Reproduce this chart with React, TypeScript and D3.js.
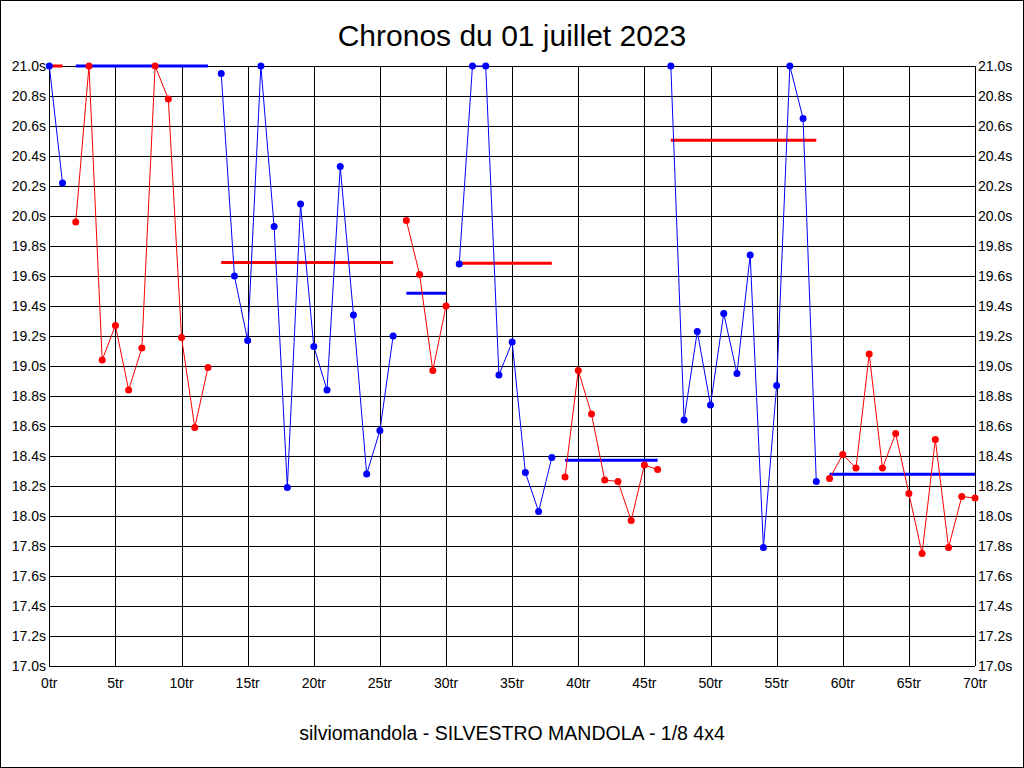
import React from "react";
import * as d3 from "d3";

const W = 1024;
const H = 768;

const title = "Chronos du 01 juillet 2023";
const subtitle = "silviomandola - SILVESTRO MANDOLA - 1/8 4x4";

// lap times (s), index = lap number (0..70), clamped at 21.0 like the chart
const lapTimes: number[] = [
  21.0, 20.22, 19.96, 21.0, 19.04, 19.27, 18.84, 19.12, 21.0, 20.78,
  19.19, 18.59, 18.99, 20.95, 19.6, 19.17, 21.0, 19.93, 18.19, 20.08,
  19.13, 18.84, 20.33, 19.34, 18.28, 18.57, 19.2, 19.97, 19.61, 18.97,
  19.4, 19.68, 21.0, 21.0, 18.94, 19.16, 18.29, 18.03, 18.39, 18.26,
  18.97, 18.68, 18.24, 18.23, 17.97, 18.34, 18.31, 21.0, 18.64, 19.23,
  18.74, 19.35, 18.95, 19.74, 17.79, 18.87, 21.0, 20.65, 18.23, 18.25,
  18.41, 18.32, 19.08, 18.32, 18.55, 18.15, 17.75, 18.51, 17.79, 18.13,
  18.12,
];

// relays: start lap, end lap, colour of points, average (clamped)
const segStart: number[] = [0, 2, 13, 27, 31, 39, 47, 59];
const segEnd: number[] = [1, 12, 26, 30, 38, 46, 58, 70];
const segColor: string[] = ["blue", "red", "blue", "red", "blue", "red", "blue", "red"];
const segAverage: number[] = [21.0, 21.0, 19.69, 19.485, 19.685, 18.371, 20.505, 18.278];

const xTicks: number[] = d3.range(0, 71, 5);
const yTicks: number[] = d3.range(0, 21).map((i) => 17 + i * 0.2);

const COLORS: Record<string, string> = { blue: "#0000ff", red: "#ff0000" };

export default function App() {
  const x = d3.scaleLinear().domain([0, 70]).range([49.3, 975]);
  const y = d3.scaleLinear().domain([17, 21]).range([666, 66]);
  const line = d3
    .line<number>()
    .x((_, i) => 0)
    .y(() => 0);

  const segs = segStart.map((s, k) => {
    const idx = d3.range(s, segEnd[k] + 1);
    const pts = idx.map((i) => [x(i), y(Math.min(21, lapTimes[i]))] as [number, number]);
    const path = d3.line()(pts) || "";
    return { k, idx, pts, path, color: COLORS[segColor[k]], avgColor: COLORS[segColor[k] === "blue" ? "red" : "blue"] };
  });
  void line;

  const font = "'Liberation Sans', Arial, sans-serif";

  return (
    <svg
      width={W}
      height={H}
      style={{ position: "absolute", left: 0, top: 0, background: "#fff" }}
      fontFamily={font}
    >
      <rect x={0} y={0} width={W} height={H} fill="#fff" />
      <rect x={0.5} y={0.5} width={W - 1} height={H - 1} fill="none" stroke="#000" strokeWidth={1} />
      <text x={512} y={46} textAnchor="middle" fontSize={30} fill="#000">
        {title}
      </text>
      {/* grid */}
      <g shapeRendering="crispEdges" stroke="#000" strokeWidth={1}>
        {yTicks.map((t) => (
          <line key={"h" + t} x1={x(0)} x2={x(70)} y1={Math.round(y(t)) + 0.5} y2={Math.round(y(t)) + 0.5} />
        ))}
        {xTicks.map((t) => (
          <line key={"v" + t} x1={Math.round(x(t)) + 0.5} x2={Math.round(x(t)) + 0.5} y1={y(21)} y2={y(17)} />
        ))}
      </g>
      {/* y labels */}
      <g fontSize={14} fill="#000">
        {yTicks.map((t) => (
          <text key={"yl" + t} x={46} y={y(t) + 5} textAnchor="end">
            {t.toFixed(1)}s
          </text>
        ))}
        {yTicks.map((t) => (
          <text key={"yr" + t} x={978} y={y(t) + 5} textAnchor="start">
            {t.toFixed(1)}s
          </text>
        ))}
        {xTicks.map((t) => (
          <text key={"xl" + t} x={x(t)} y={688} textAnchor="middle">
            {t}tr
          </text>
        ))}
      </g>
      {/* average lines */}
      {segs.map((s) => (
        <line
          key={"avg" + s.k}
          x1={x(segStart[s.k])}
          x2={x(segEnd[s.k])}
          y1={y(segAverage[s.k])}
          y2={y(segAverage[s.k])}
          stroke={s.avgColor}
          strokeWidth={3}
        />
      ))}
      {/* series */}
      {segs.map((s) => (
        <g key={"seg" + s.k}>
          <path d={s.path} fill="none" stroke={s.color} strokeWidth={1} />
          {s.pts.map((p, j) => (
            <circle key={j} cx={p[0]} cy={p[1]} r={3.5} fill={s.color} />
          ))}
        </g>
      ))}
      <text x={512} y={740} textAnchor="middle" fontSize={19.5} fill="#000">
        {subtitle}
      </text>
    </svg>
  );
}
